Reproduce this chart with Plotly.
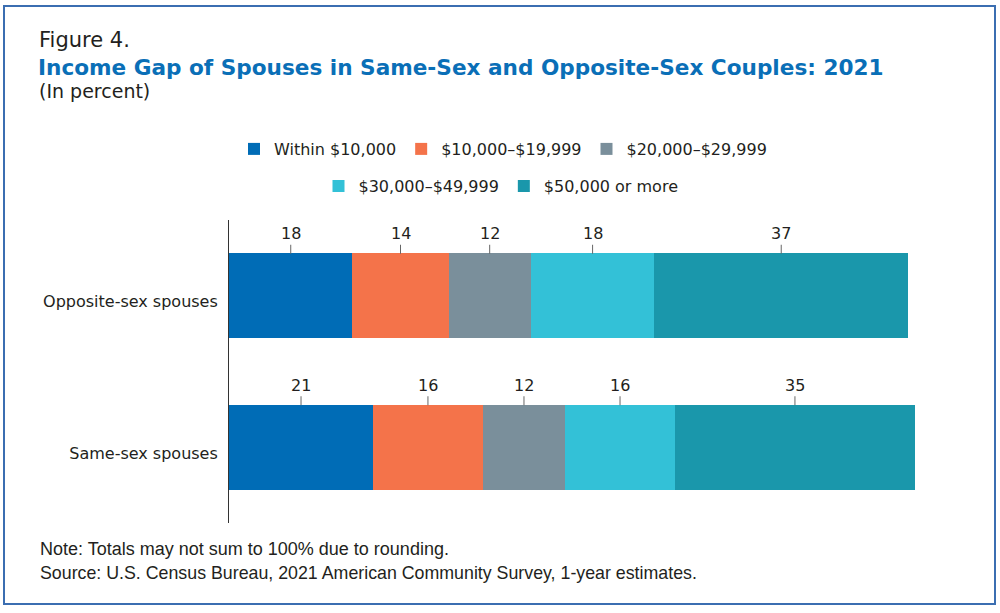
import plotly.graph_objects as go

# data
groups = ['Same-sex spouses', 'Opposite-sex spouses']
categories = ['Within $10,000', '$10,000–$19,999', '$20,000–$29,999',
              '$30,000–$49,999', '$50,000 or more']
same_sex = [21, 16, 12, 16, 35]
opposite_sex = [18, 14, 12, 18, 37]
colors = ['#006cb6', '#f4734a', '#7a8f9b', '#33c1d7', '#1a97ab']

W, H = 1000, 613
L, R, T, B = 229, 85, 220, 90
PW, PH = W - L - R, H - T - B


def px_x(px):
    return (px - L) / PW


def px_y(py):
    return (H - B - py) / PH


text_col = '#231f20'
font_main = 'DejaVu Sans, Open Sans, Arial'
font_note = 'Liberation Sans, Arial'

fig = go.Figure()
for i, cat in enumerate(categories):
    fig.add_trace(go.Bar(
        y=groups, x=[same_sex[i], opposite_sex[i]], name=cat, orientation='h',
        marker=dict(color=colors[i], line=dict(width=0)),
        width=0.56, hoverinfo='x+name',
        legend='legend' if i < 3 else 'legend2',
    ))

# value labels with small leader ticks above each segment
annotations = []
for g, vals in zip(groups, [same_sex, opposite_sex]):
    start = 0
    for v in vals:
        annotations.append(dict(
            x=start + v / 2, y=g, yshift=42, xref='x', yref='y',
            text=str(v), showarrow=True, ax=0, ay=-20, arrowhead=0,
            arrowwidth=1, arrowcolor='#666666', standoff=0,
            font=dict(family=font_main, size=16, color=text_col),
        ))
        start += v

annotations += [
    dict(x=px_x(37), y=px_y(40), xref='paper', yref='paper', xanchor='left', yanchor='middle',
         text='Figure 4.', showarrow=False, font=dict(family=font_main, size=21, color=text_col)),
    dict(x=px_x(36), y=px_y(67), xref='paper', yref='paper', xanchor='left', yanchor='middle',
         text='<b>Income Gap of Spouses in Same-Sex and Opposite-Sex Couples: 2021</b>',
         showarrow=False, font=dict(family=font_main, size=21.6, color='#0a6fb7')),
    dict(x=px_x(37), y=px_y(91), xref='paper', yref='paper', xanchor='left', yanchor='middle',
         text='(In percent)', showarrow=False, font=dict(family=font_main, size=19, color=text_col)),
    dict(x=px_x(38), y=px_y(549), xref='paper', yref='paper', xanchor='left', yanchor='middle',
         text='Note: Totals may not sum to 100% due to rounding.', showarrow=False,
         font=dict(family=font_note, size=18, color=text_col)),
    dict(x=px_x(38), y=px_y(573), xref='paper', yref='paper', xanchor='left', yanchor='middle',
         text='Source: U.S. Census Bureau, 2021 American Community Survey, 1-year estimates.',
         showarrow=False, font=dict(family=font_note, size=17.8, color=text_col)),
]

fig.update_layout(
    width=W, height=H,
    margin=dict(l=L, r=R, t=T, b=B, autoexpand=False),
    barmode='stack',
    plot_bgcolor='white', paper_bgcolor='white',
    font=dict(family=font_main, size=16, color=text_col),
    xaxis=dict(range=[0, 100], visible=False, fixedrange=True),
    yaxis=dict(range=[-0.5, 1.5], showline=True, linecolor='#333333', linewidth=1,
               ticks='outside', ticklen=7, tickcolor='white', showgrid=False, automargin=False,
               ticklabelshift=6,
               tickfont=dict(size=16, color=text_col), fixedrange=True),
    legend=dict(orientation='h', x=px_x(503), xanchor='center', y=px_y(149), yanchor='middle',
                font=dict(size=16, color=text_col), traceorder='normal'),
    legend2=dict(orientation='h', x=px_x(501), xanchor='center', y=px_y(186), yanchor='middle',
                 font=dict(size=16, color=text_col), traceorder='normal'),
    annotations=annotations,
    shapes=[dict(type='rect', xref='paper', yref='paper',
                 x0=px_x(4), x1=px_x(995), y0=px_y(604), y1=px_y(6),
                 line=dict(color='#3b6eb1', width=2), layer='below')],
    showlegend=True,
)

# page has a default body margin; drop it so the figure sits at 0,0
fig.write_html('out.html', config={'displayModeBar': False},
               post_script="document.body.style.margin='0';")
